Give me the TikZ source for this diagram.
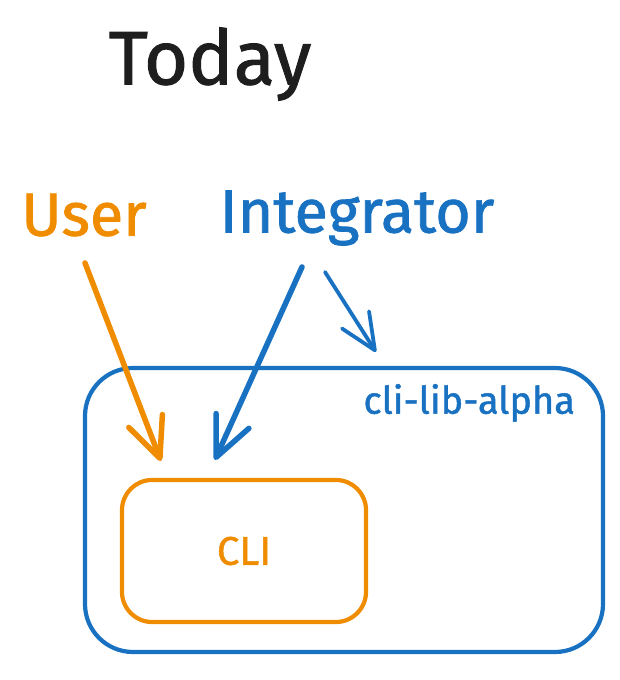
\documentclass[tikz,border=0pt]{standalone}
\usepackage{fontspec}
\setmainfont{Fira Sans}[FakeBold=1.2]
\usepackage{xcolor}
\usetikzlibrary{arrows.meta,positioning,calc}
\definecolor{ink}{HTML}{1E1E1E}
\definecolor{amber}{HTML}{F08C00}
\definecolor{azure}{HTML}{1971C2}
\tikzset{
  title/.style={text=ink, font=\fontsize{76}{80}\selectfont, inner sep=0pt},
  actor/.style={font=\fontsize{61}{64}\selectfont, inner sep=0pt},
  frame/.style={draw, line width=4.2pt, inner sep=0pt},
  tag/.style={font=\fontsize{38}{40}\selectfont, inner sep=0pt},
  arr/.style={-{Straight Barb[length=40pt, width=36pt, round]}, line width=5.5pt, line cap=round},
  tarr/.style={-{Straight Barb[length=36pt, width=32pt, round]}, line width=3.8pt, line cap=round}
}
\begin{document}
\begin{tikzpicture}[x=1pt, y=-1pt]
\useasboundingbox (0,0) rectangle (619,680);
\node[title] (today) at (210,64) {Today};
\node[actor, text=amber] (user) at (84,215) {User};
\node[actor, text=azure] (integ) at (357,218) {Integrator};
\node[frame, draw=azure, rounded corners=48pt, minimum width=518pt, minimum height=284pt] (lib) at (344,510) {};
\node[tag, text=azure, anchor=east] (libname) at ($(lib.north east)+(-30,37)$) {cli-lib-alpha};
\node[frame, draw=amber, text=amber, rounded corners=30pt, minimum width=244pt, minimum height=142pt,
  font=\fontsize{40}{44}\selectfont] (cli) at (244,551) {CLI};
\draw[arr, amber] ($(user)+(1,48)$) -- ($(cli.north west)+(41,-17)$);
\draw[arr, azure] ($(integ)+(-55,49)$) -- ($(cli.north west)+(95,-18)$);
\draw[tarr, azure] ($(integ)+(-32,54)$) -- ($(lib.north west)+(293,-14)$);
\end{tikzpicture}
\end{document}
